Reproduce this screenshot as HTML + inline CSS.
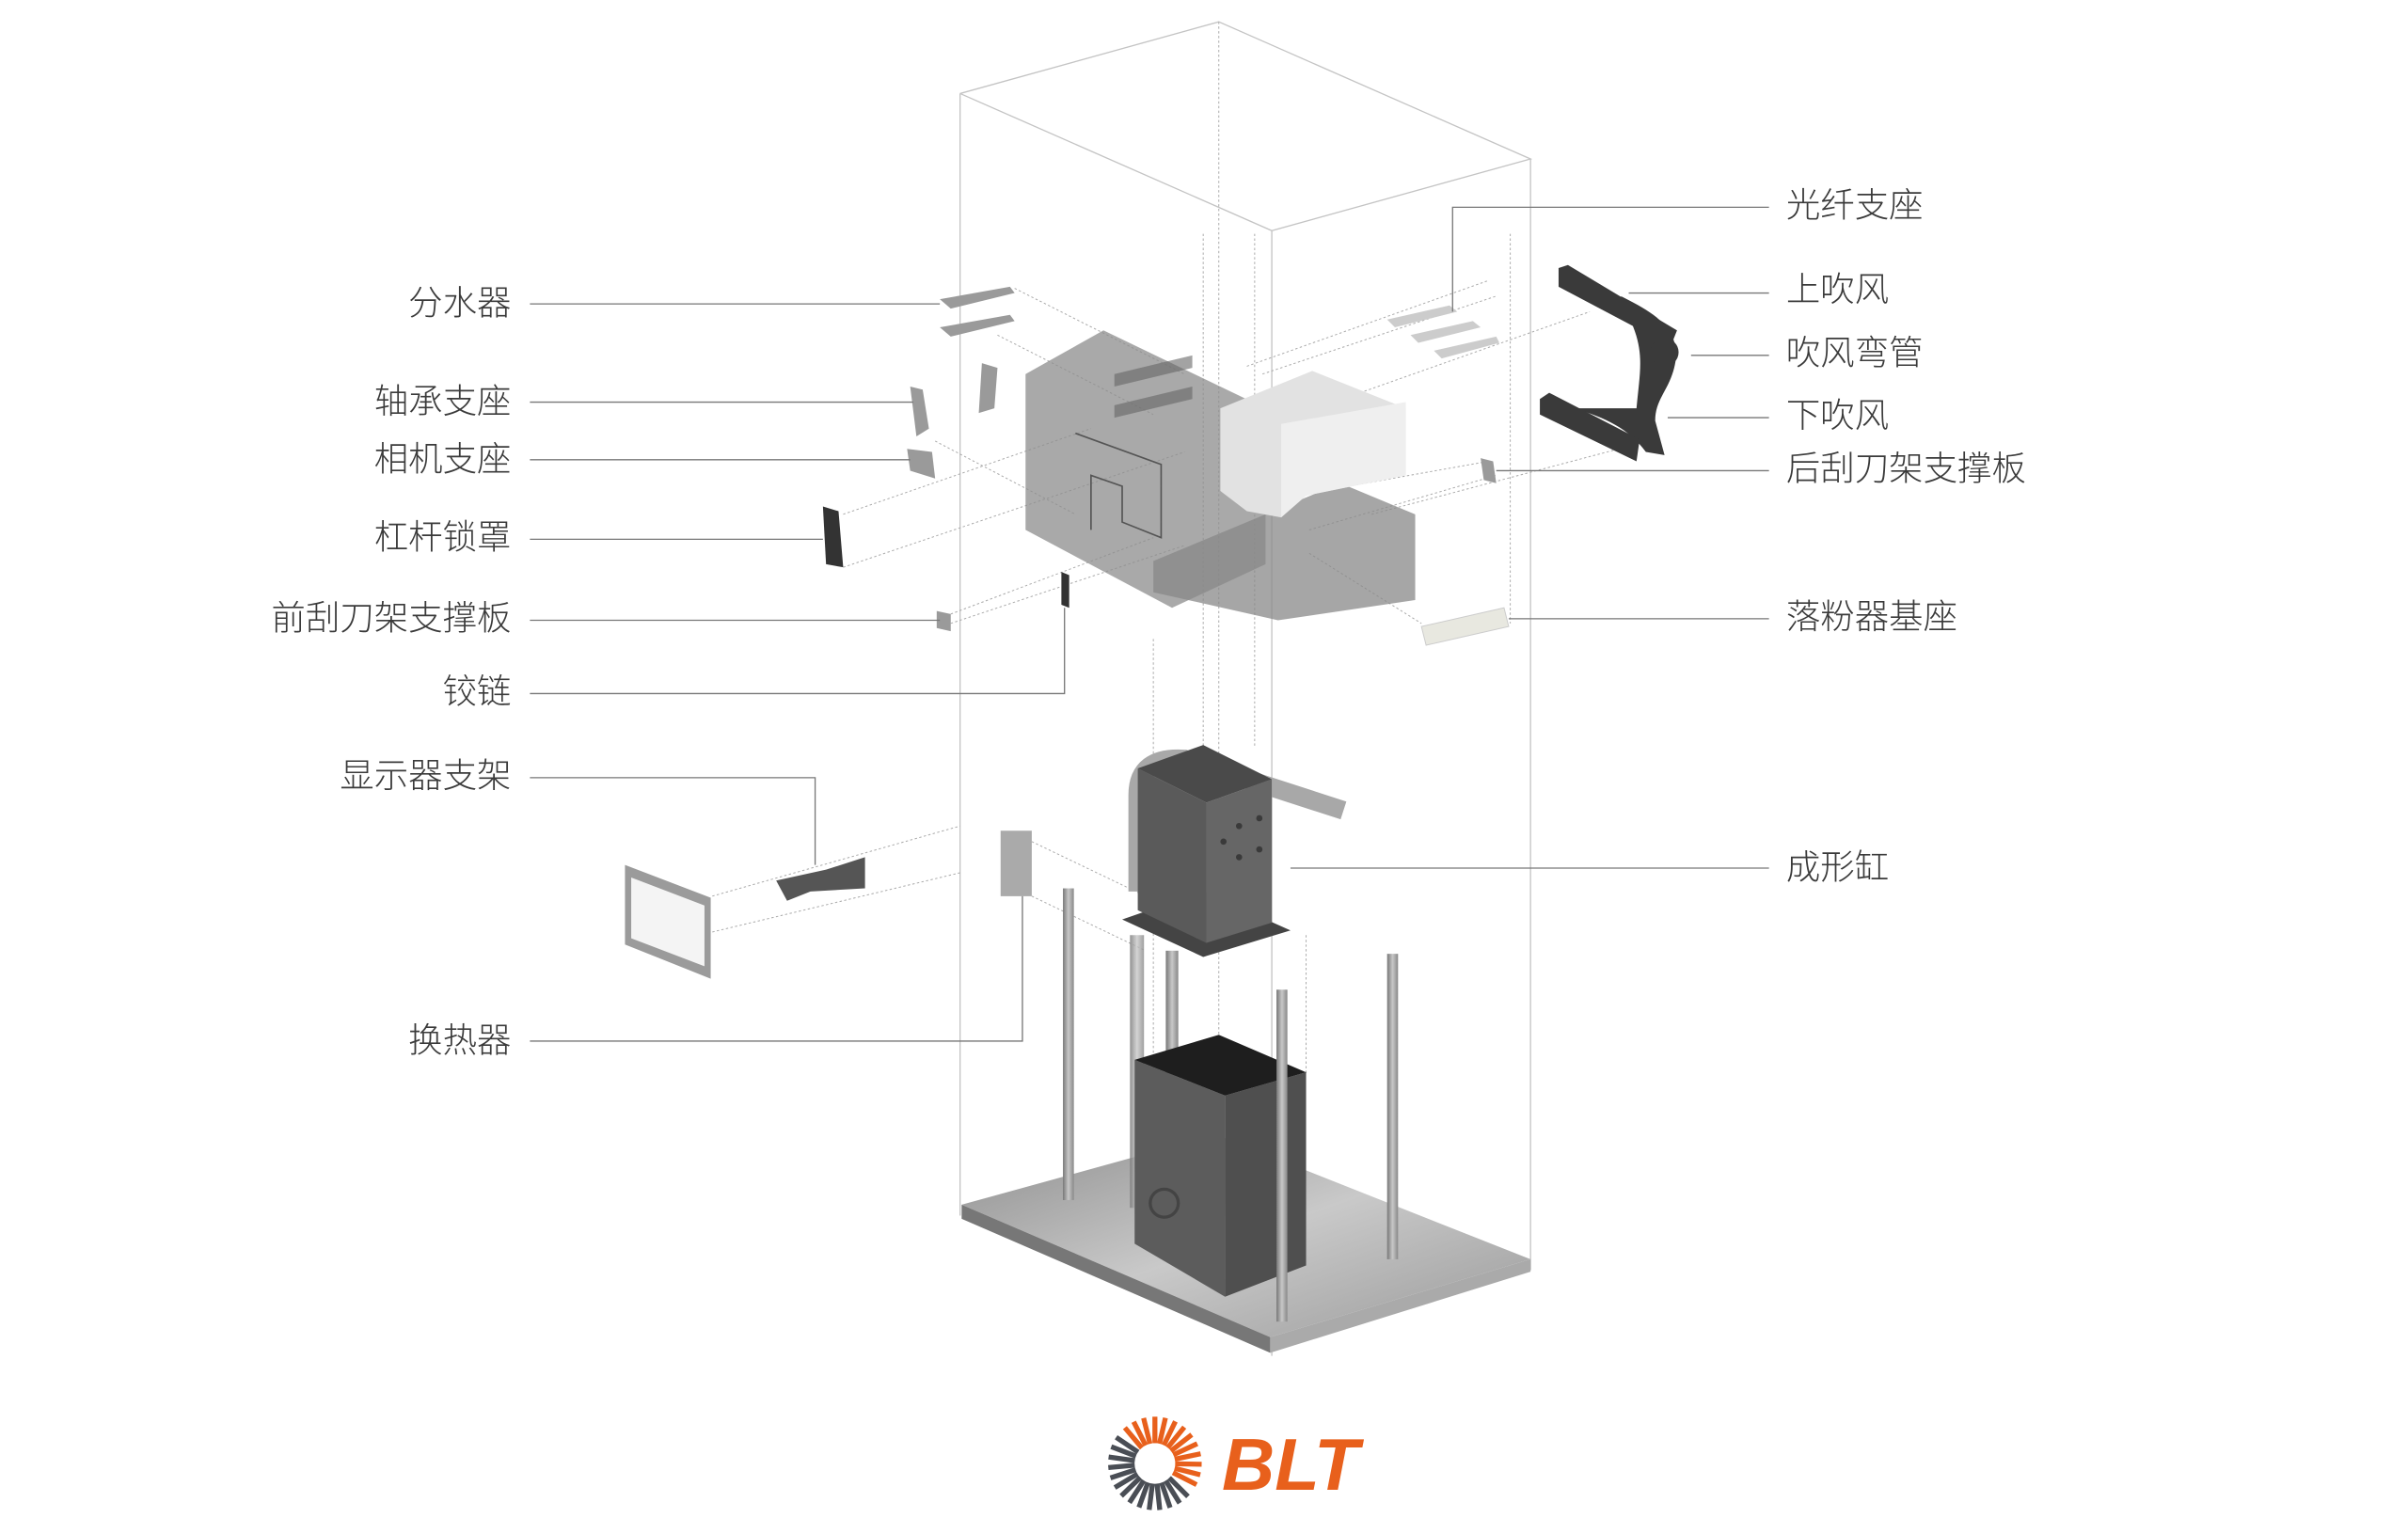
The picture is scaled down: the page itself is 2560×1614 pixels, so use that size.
<!DOCTYPE html>
<html><head><meta charset="utf-8"><style>
html,body{margin:0;padding:0;background:#fff;}
svg{display:block;}
text{font-family:"Liberation Sans","Noto Sans CJK SC",sans-serif;font-size:22px;fill:#3a3a3a;font-weight:300;}
</style></head><body>
<svg width="2560" height="1614" viewBox="0 0 1545 974" preserveAspectRatio="none" xmlns="http://www.w3.org/2000/svg">
<defs>
<linearGradient id="plate" x1="0" y1="0" x2="1" y2="1"><stop offset="0" stop-color="#8d8d8d"/><stop offset=".5" stop-color="#c9c9c9"/><stop offset="1" stop-color="#9a9a9a"/></linearGradient>
<linearGradient id="pole" x1="0" x2="1"><stop offset="0" stop-color="#777"/><stop offset=".5" stop-color="#c8c8c8"/><stop offset="1" stop-color="#888"/></linearGradient>
<linearGradient id="dark" x1="0" x2="1"><stop offset="0" stop-color="#4a4a4a"/><stop offset="1" stop-color="#6a6a6a"/></linearGradient>
</defs>

<!-- outer wireframe box -->
<g stroke="#c4c4c4" stroke-width="0.8" fill="none">
<polyline points="616,60 782,14 982,102 816,148 616,60"/>
<line x1="616" y1="60" x2="616" y2="780"/>
<line x1="816" y1="148" x2="816" y2="870"/>
<line x1="982" y1="102" x2="982" y2="815"/>
</g>
<g stroke="#aaa" stroke-width="0.6" fill="none" stroke-dasharray="1.5 1.5">
<line x1="782" y1="14" x2="782" y2="735"/>
<line x1="772" y1="150" x2="772" y2="480"/>
<line x1="805" y1="150" x2="805" y2="480"/>
<line x1="969" y1="150" x2="969" y2="400"/>
<line x1="740" y1="410" x2="740" y2="680"/>
<line x1="838" y1="600" x2="838" y2="690"/>
<!-- diagonal leaders -->
<line x1="651" y1="185" x2="760" y2="240"/>
<line x1="640" y1="215" x2="740" y2="266"/>
<line x1="600" y1="283" x2="690" y2="330"/>
<line x1="541" y1="364" x2="760" y2="290"/>
<line x1="541" y1="330" x2="700" y2="275"/>
<line x1="610" y1="400" x2="760" y2="350"/>
<line x1="610" y1="394" x2="740" y2="345"/>
<line x1="800" y1="235" x2="955" y2="180"/>
<line x1="810" y1="240" x2="960" y2="190"/>
<line x1="850" y1="260" x2="1020" y2="200"/>
<line x1="820" y1="320" x2="955" y2="296"/>
<line x1="840" y1="340" x2="960" y2="305"/>
<line x1="880" y1="330" x2="1050" y2="285"/>
<line x1="840" y1="355" x2="912" y2="400"/>
<line x1="457" y1="575" x2="616" y2="530"/>
<line x1="457" y1="598" x2="616" y2="560"/>
<line x1="662" y1="540" x2="735" y2="575"/>
<line x1="662" y1="575" x2="735" y2="610"/>
</g>

<!-- upper translucent blocks -->
<polygon points="658,240 708,212 812,262 812,362 752,390 658,340" fill="#8c8c8c" opacity="0.75"/>
<polygon points="740,360 860,310 908,330 908,385 820,398 740,380" fill="#888" opacity="0.75"/>
<polygon points="783,262 842,238 902,262 902,305 838,318 822,332 800,328 783,315" fill="#e2e2e2"/>
<polygon points="822,272 902,258 902,305 838,318 822,332" fill="#efefef"/>
<polyline points="690,278 745,298 745,345 720,335 720,312 700,305 700,340" fill="none" stroke="#555" stroke-width="1"/>
<polygon points="715,240 765,228 765,236 715,248" fill="#666" opacity=".6"/>
<polygon points="715,260 765,248 765,256 715,268" fill="#666" opacity=".6"/>

<!-- dark blower part -->
<g fill="#3a3a3a">
<polygon points="1000,172 1006,170 1076,212 1072,222 1000,184"/>
<path d="M1040,190 C1060,200 1078,210 1075,232 C1072,250 1062,255 1062,270 L1068,292 L1056,290 C1045,275 1030,268 1010,262 L1050,262 C1052,240 1055,228 1048,210 Z"/>
<polygon points="988,256 994,252 1052,282 1050,296 988,266"/>
<circle cx="1068" cy="226" r="9"/>
</g>

<!-- small parts -->
<g fill="#9a9a9a">
<polygon points="603,192 648,184 651,188 610,198"/>
<polygon points="603,210 648,202 651,206 610,216"/>
<polygon points="584,248 592,250 596,275 588,280"/>
<polygon points="630,233 640,236 638,262 628,265"/>
<polygon points="582,288 598,290 600,307 584,302"/>
<polygon points="950,294 958,296 960,310 952,308"/>
<polygon points="601,392 610,394 610,405 601,403"/>
<polygon points="642,533 662,533 662,575 642,575" fill="#aaa"/>
</g>
<g fill="#ccc">
<polygon points="890,205 930,196 935,200 895,210"/>
<polygon points="905,215 945,206 950,210 910,220"/>
<polygon points="920,225 960,216 962,220 925,230"/>
</g>
<polygon points="912,402 965,390 968,402 915,414" fill="#e8e8e0" stroke="#ccc" stroke-width=".6"/>
<polygon points="528,325 538,328 541,364 530,362" fill="#333"/>
<polygon points="681,367 686,369 686,390 681,388" fill="#333"/>
<!-- display -->
<polygon points="401,555 456,576 456,628 401,606" fill="#9b9b9b"/>
<polygon points="405,563 452,581 452,620 405,602" fill="#f4f4f4"/>
<path d="M498,565 L530,558 L555,550 L555,570 L520,572 L505,578 Z" fill="#555"/>

<!-- base plate -->
<polygon points="617,773 780,728 982,808 815,858" fill="url(#plate)"/>
<polygon points="617,773 815,858 815,868 617,782" fill="#777"/>
<polygon points="815,858 982,808 982,816 815,868" fill="#aaa"/>

<!-- poles -->
<rect x="682" y="570" width="7" height="200" fill="url(#pole)"/>
<rect x="890" y="612" width="7" height="196" fill="url(#pole)"/>
<rect x="725" y="600" width="9" height="175" fill="url(#pole)" opacity=".8"/>
<rect x="748" y="610" width="8" height="80" fill="url(#pole)"/>

<!-- lower chamber -->
<polygon points="728,680 786,703 786,832 728,798" fill="#5c5c5c"/>
<polygon points="786,703 838,688 838,812 786,832" fill="#4f4f4f"/>
<polygon points="728,680 782,664 838,688 786,703" fill="#1e1e1e"/>
<circle cx="747" cy="772" r="9" fill="none" stroke="#444" stroke-width="2"/>
<rect x="819" y="635" width="7" height="213" fill="url(#pole)"/>

<!-- upper forming cylinder -->
<path d="M730,572 L730,510 Q730,485 760,487 L862,520" fill="none" stroke="#a8a8a8" stroke-width="12"/>
<polygon points="720,590 772,572 828,597 772,614" fill="#444"/>
<polygon points="730,493 774,515 774,605 730,584" fill="#5a5a5a"/>
<polygon points="774,515 816,500 816,592 774,605" fill="#666"/>
<polygon points="730,493 772,478 816,500 774,515" fill="#4a4a4a"/>
<g fill="#3a3a3a"><circle cx="795" cy="530" r="2"/><circle cx="808" cy="525" r="2"/><circle cx="795" cy="550" r="2"/><circle cx="808" cy="545" r="2"/><circle cx="785" cy="540" r="2"/></g>

<!-- leader lines -->
<g stroke="#777" stroke-width="0.8" fill="none">
<polyline points="340,195 603,195"/>
<polyline points="340,258 586,258"/>
<polyline points="340,295 584,295"/>
<polyline points="340,346 528,346"/>
<polyline points="340,398 603,398"/>
<polyline points="340,445 683,445 683,390"/>
<polyline points="340,499 523,499 523,555"/>
<polyline points="340,668 656,668 656,575"/>
<polyline points="1135,133 932,133 932,200"/>
<polyline points="1135,188 1045,188"/>
<polyline points="1135,228 1085,228"/>
<polyline points="1135,268 1070,268"/>
<polyline points="1135,302 960,302"/>
<polyline points="1135,397 968,397"/>
<polyline points="1135,557 828,557"/>
</g>

<!-- labels -->
<g text-anchor="end">
<text x="328" y="202">分水器</text>
<text x="328" y="265">轴承支座</text>
<text x="328" y="302">相机支座</text>
<text x="328" y="352">杠杆锁罩</text>
<text x="328" y="404">前刮刀架支撑板</text>
<text x="328" y="451">铰链</text>
<text x="328" y="505">显示器支架</text>
<text x="328" y="675">换热器</text>
</g>
<g>
<text x="1146" y="139">光纤支座</text>
<text x="1146" y="193">上吹风</text>
<text x="1146" y="234">吹风弯管</text>
<text x="1146" y="274">下吹风</text>
<text x="1146" y="308">后刮刀架支撑板</text>
<text x="1146" y="403">落粉器基座</text>
<text x="1146" y="564">成形缸</text>
</g>

<!-- logo -->
<g transform="translate(741,939)">
<g stroke-width="3.2">
<g stroke="#e8601c">
<line x1="0" y1="-13" x2="0" y2="-30" transform="rotate(-40)"/><line x1="0" y1="-13" x2="0" y2="-30" transform="rotate(-27)"/>
<line x1="0" y1="-13" x2="0" y2="-30" transform="rotate(-14)"/><line x1="0" y1="-13" x2="0" y2="-30" transform="rotate(0)"/>
<line x1="0" y1="-13" x2="0" y2="-30" transform="rotate(13)"/><line x1="0" y1="-13" x2="0" y2="-30" transform="rotate(26)"/>
<line x1="0" y1="-13" x2="0" y2="-30" transform="rotate(39)"/><line x1="0" y1="-13" x2="0" y2="-30" transform="rotate(52)"/>
<line x1="0" y1="-13" x2="0" y2="-30" transform="rotate(65)"/><line x1="0" y1="-13" x2="0" y2="-30" transform="rotate(78)"/>
<line x1="0" y1="-13" x2="0" y2="-30" transform="rotate(91)"/><line x1="0" y1="-13" x2="0" y2="-30" transform="rotate(104)"/>
<line x1="0" y1="-13" x2="0" y2="-30" transform="rotate(117)"/>
</g>
<g stroke="#4a4e55">
<line x1="0" y1="-13" x2="0" y2="-30" transform="rotate(135)"/><line x1="0" y1="-13" x2="0" y2="-30" transform="rotate(148)"/>
<line x1="0" y1="-13" x2="0" y2="-30" transform="rotate(161)"/><line x1="0" y1="-13" x2="0" y2="-30" transform="rotate(174)"/>
<line x1="0" y1="-13" x2="0" y2="-30" transform="rotate(187)"/><line x1="0" y1="-13" x2="0" y2="-30" transform="rotate(200)"/>
<line x1="0" y1="-13" x2="0" y2="-30" transform="rotate(213)"/><line x1="0" y1="-13" x2="0" y2="-30" transform="rotate(226)"/>
<line x1="0" y1="-13" x2="0" y2="-30" transform="rotate(239)"/><line x1="0" y1="-13" x2="0" y2="-30" transform="rotate(252)"/>
<line x1="0" y1="-13" x2="0" y2="-30" transform="rotate(265)"/><line x1="0" y1="-13" x2="0" y2="-30" transform="rotate(278)"/>
<line x1="0" y1="-13" x2="0" y2="-30" transform="rotate(291)"/><line x1="0" y1="-13" x2="0" y2="-30" transform="rotate(304)"/>
</g>
</g>
</g>
<text x="784" y="956" style="font-family:'Liberation Sans',sans-serif;font-size:47px;font-weight:bold;font-style:italic;fill:#e8601c;">BLT</text>
</svg>
</body></html>
